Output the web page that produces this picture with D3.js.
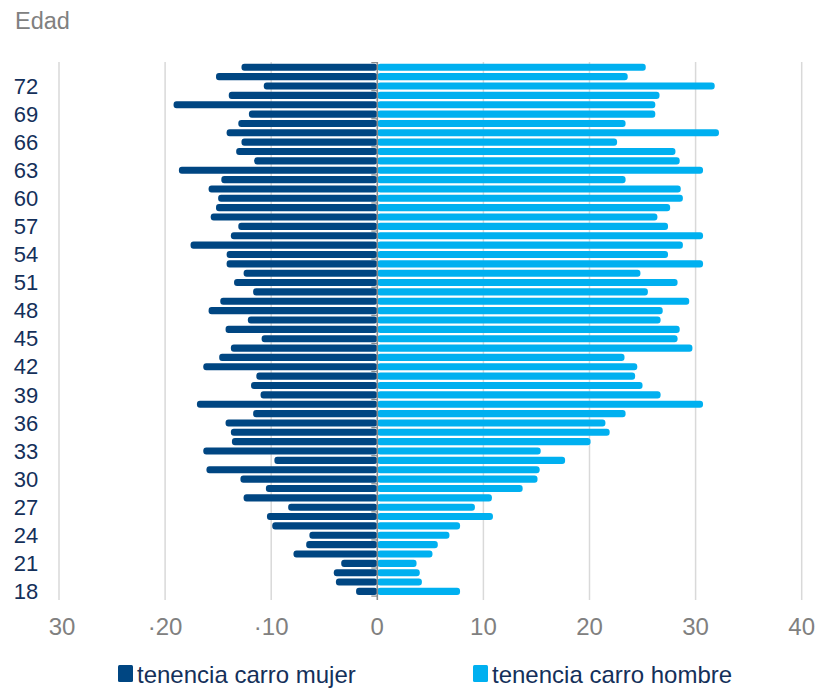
<!DOCTYPE html>
<html>
<head>
<meta charset="utf-8">
<script src="https://cdn.jsdelivr.net/npm/d3@7"></script>
<style>
  html, body { margin: 0; padding: 0; background: #ffffff; }
  svg { display: block; font-family: "Liberation Sans", Arial, sans-serif; }
</style>
</head>
<body>
<svg id="chart" width="817" height="688"></svg>
<script>
// Ages from oldest (top) to youngest (bottom)
const ages = d3.range(74, 17, -1);

// Car ownership by age, women (drawn to the left of zero)
const mujer = [
  12.8, 15.2, 10.7, 14.0, 19.2, 12.1, 13.1, 14.2, 12.8, 13.3,
  11.6, 18.7, 14.7, 15.9, 15.0, 15.2, 15.7, 13.1, 13.8, 17.6,
  14.2, 14.2, 12.6, 13.5, 11.7, 14.8, 15.9, 12.2, 14.3, 10.9,
  13.8, 14.9, 16.4, 11.4, 11.9, 11.0, 17.0, 11.7, 14.3, 13.8,
  13.7, 16.4, 9.7, 16.1, 12.9, 10.5, 12.6, 8.4, 10.4, 9.9,
  6.4, 6.7, 7.9, 3.4, 4.1, 3.9, 2.0
];

// Car ownership by age, men (drawn to the right of zero)
const hombre = [
  25.3, 23.6, 31.8, 26.6, 26.2, 26.2, 23.4, 32.2, 22.6, 28.1,
  28.5, 30.7, 23.4, 28.6, 28.8, 27.6, 26.4, 27.4, 30.7, 28.8,
  27.4, 30.7, 24.8, 28.3, 25.5, 29.4, 26.9, 26.7, 28.5, 28.3,
  29.7, 23.3, 24.5, 24.3, 25.0, 26.7, 30.7, 23.4, 21.5, 21.9,
  20.1, 15.4, 17.7, 15.3, 15.1, 13.7, 10.8, 9.2, 10.9, 7.8,
  6.8, 5.7, 5.2, 3.7, 4.0, 4.2, 7.8
];

const xTicks = [-30, -20, -10, 0, 10, 20, 30, 40];
const xTickLabels = ["30", "·20", "·10", "0", "10", "20", "30", "40"];
const yTickAges = d3.range(18, 75, 3);
const seriesNames = ["tenencia carro mujer", "tenencia carro hombre"];

const colMujer = "#004682";
const colHombre = "#00b0f0";
const navy = "#14305a";
const gray = "#808080";

const svg = d3.select("#chart");

const x = d3.scaleLinear().domain([-30, 40]).range([59, 801.7]);
const y = d3.scaleBand().domain(ages).range([62.6, 596.1]).paddingInner(0.24).paddingOuter(0.12);
const gridTop = 62, gridBottom = 600;

// Vertical gridlines
svg.append("g")
  .selectAll("line")
  .data(xTicks.filter(t => t !== 0))
  .join("line")
  .attr("x1", d => x(d)).attr("x2", d => x(d))
  .attr("y1", gridTop).attr("y2", gridBottom)
  .attr("stroke", "#d9d9d9").attr("stroke-width", 1.5);

// Category tick marks on the zero axis
const step = y.step();
svg.append("g")
  .selectAll("line")
  .data(d3.range(0, ages.length + 1, 3))
  .join("line")
  .attr("x1", x(0) - 6).attr("x2", x(0))
  .attr("y1", i => y.range()[0] + i * step)
  .attr("y2", i => y.range()[0] + i * step)
  .attr("stroke", "#8c8c8c").attr("stroke-width", 1.2);

// Women bars
svg.append("g")
  .selectAll("rect")
  .data(ages.map((a, i) => ({ age: a, v: mujer[i] })))
  .join("rect")
  .attr("x", d => x(-d.v))
  .attr("y", d => y(d.age))
  .attr("width", d => x(0) - x(-d.v))
  .attr("height", y.bandwidth())
  .attr("rx", 3)
  .attr("fill", colMujer);

// Men bars
svg.append("g")
  .selectAll("rect")
  .data(ages.map((a, i) => ({ age: a, v: hombre[i] })))
  .join("rect")
  .attr("x", x(0))
  .attr("y", d => y(d.age))
  .attr("width", d => x(d.v) - x(0))
  .attr("height", y.bandwidth())
  .attr("rx", 3)
  .attr("fill", colHombre);

// Zero axis line
svg.append("line")
  .attr("x1", x(0)).attr("x2", x(0))
  .attr("y1", gridTop).attr("y2", gridBottom)
  .attr("stroke", "#8c8c8c").attr("stroke-width", 1.6);

// Age labels
svg.append("g")
  .selectAll("text")
  .data(yTickAges)
  .join("text")
  .attr("x", 26)
  .attr("y", d => y(d) + y.bandwidth() / 2)
  .attr("dy", "0.35em")
  .attr("text-anchor", "middle")
  .attr("font-size", 22)
  .attr("fill", navy)
  .text(d => d);

// Value axis labels
svg.append("g")
  .selectAll("text")
  .data(xTicks)
  .join("text")
  .attr("x", d => x(d) + (d === -30 ? 3 : 0))
  .attr("y", 635)
  .attr("text-anchor", "middle")
  .attr("font-size", 24)
  .attr("fill", gray)
  .text((d, i) => xTickLabels[i]);

// Axis title
svg.append("text")
  .attr("x", 15).attr("y", 29)
  .attr("font-size", 23.5)
  .attr("fill", gray)
  .text("Edad");

// Legend
const legend = svg.append("g");
const legendItems = [
  { name: seriesNames[0], color: colMujer, x: 118 },
  { name: seriesNames[1], color: colHombre, x: 473 }
];
legendItems.forEach(it => {
  legend.append("rect")
    .attr("x", it.x).attr("y", 665)
    .attr("width", 15).attr("height", 17)
    .attr("rx", 1.5)
    .attr("fill", it.color);
  legend.append("text")
    .attr("x", it.x + 19).attr("y", 683)
    .attr("font-size", 24)
    .attr("fill", navy)
    .text(it.name);
});
</script>
</body>
</html>
